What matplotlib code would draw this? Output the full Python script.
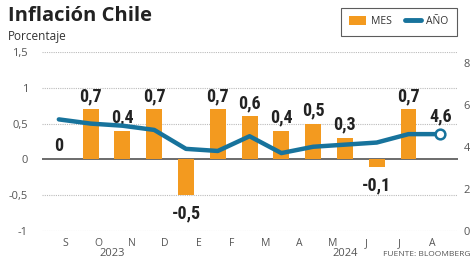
import matplotlib
matplotlib.use("Agg")
import matplotlib.pyplot as plt
from matplotlib.lines import Line2D
from matplotlib.patches import Patch

months = ["S", "O", "N", "D", "E", "F", "M", "A", "M", "J", "J", "A"]
mes = [0, 0.7, 0.4, 0.7, -0.5, 0.7, 0.6, 0.4, 0.5, 0.3, -0.1, 0.7]
anio = [5.3, 5.1, 5.0, 4.8, 3.9, 3.8, 4.5, 3.7, 4.0, 4.1, 4.2, 4.6, 4.6]
left_ticks = [-1, -0.5, 0, 0.5, 1, 1.5]
right_ticks = [0, 2, 4, 6, 8]
years = ["2023", "2024"]

ORANGE = "#F39A1F"
BLUE = "#17739C"
GRAY = "#555555"

def fmt(v):
    return ("%g" % v).replace(".", ",")

plt.rcParams['font.family'] = ['Open Sans', 'DejaVu Sans']

fig = plt.figure(figsize=(4.7, 2.63), dpi=100)
ax = fig.add_axes([0.089, 0.1217, 0.885, 0.6806])
xb = list(range(len(mes)))
xl = list(range(len(anio)))
# month labels are spaced slightly wider than the bars in the reference
tick_pos = [0.19 + 1.052 * i for i in range(len(months))]

for v in left_ticks:
    if v == 0:
        ax.axhline(v, color="#444444", lw=1.1, zorder=1)
    else:
        ax.axhline(v, color="#bbbbbb", lw=0.8, ls=(0, (1, 1)), zorder=0)

ax.bar(xb, mes, width=0.5, color=ORANGE, zorder=2)
ax.set_xlim(-0.535, 12.55)
ax.set_ylim(-1, 1.5)
ax.set_yticks(left_ticks)
ax.set_yticklabels([fmt(v) for v in left_ticks], color=GRAY, fontsize=8)
ax.set_xticks(tick_pos)
ax.set_xticklabels(months, color=GRAY, fontsize=7.5)
ax.tick_params(axis='x', length=0, pad=5)
ax.tick_params(axis='y', length=0, pad=10)
for s in ax.spines.values():
    s.set_visible(False)

lab_font = dict(family=['Roboto Condensed', 'Open Sans Condensed', 'Liberation Sans Narrow', 'DejaVu Sans'],
                fontstretch='condensed', fontweight='bold', fontsize=13, color="#222222")
for xi, v in zip(xb, mes):
    if v >= 0:
        ax.annotate(fmt(v), (xi, v), xytext=(0, 3), textcoords='offset points', ha='center', va='bottom', zorder=5, **lab_font)
    else:
        ax.annotate(fmt(v), (xi, v), xytext=(0, -7), textcoords='offset points', ha='center', va='top', zorder=5, **lab_font)

ax2 = ax.twinx()
ax2.set_ylim(0, 8.5)
ax2.set_yticks(right_ticks)
ax2.set_yticklabels([str(v) for v in right_ticks], color=GRAY, fontsize=8)
ax2.tick_params(length=0, pad=4)
for s in ax2.spines.values():
    s.set_visible(False)
ax2.plot(xl, anio, color=BLUE, lw=3.2, solid_capstyle='round', solid_joinstyle='round', zorder=3)
ax2.plot([xl[-1]], [anio[-1]], marker='o', ms=7, mfc='white', mec=BLUE, mew=1.8, zorder=4)
ax2.annotate(fmt(anio[-1]), (xl[-1], anio[-1]), xytext=(0, 6), textcoords='offset points', ha='center', va='bottom', **lab_font)

fig.text(112/470, 1-254/263, years[0], ha='center', va='center', fontsize=8, color=GRAY)
fig.text(345/470, 1-254/263, years[1], ha='center', va='center', fontsize=8, color=GRAY)
fig.text(383/470, 1-254/263, "FUENTE: BLOOMBERG", ha='left', va='center', fontsize=6, color=GRAY)

fig.text(8/470, 1-16/263, "Inflación Chile", fontsize=14.5, fontweight='bold', color="#222222", ha='left', va='center')
fig.text(8/470, 1-36/263, "Porcentaje", fontsize=8.5, color="#333333", ha='left', va='center')

handles = [Patch(facecolor=ORANGE, edgecolor='none'),
           Line2D([0], [0], color=BLUE, lw=3.5, solid_capstyle='round')]
leg = fig.legend(handles, ["MES", "AÑO"], loc='upper right', bbox_to_anchor=(457/470, 1-8/263),
                 ncol=2, frameon=True, fontsize=7.5, handlelength=1.6, handleheight=0.9,
                 columnspacing=1.2, handletextpad=0.5, borderpad=0.8, borderaxespad=0, fancybox=False)
leg.get_frame().set_edgecolor("#333333")
leg.get_frame().set_linewidth(0.8)
for t in leg.get_texts():
    t.set_color("#333333")

fig.savefig("out.png", dpi=100)
